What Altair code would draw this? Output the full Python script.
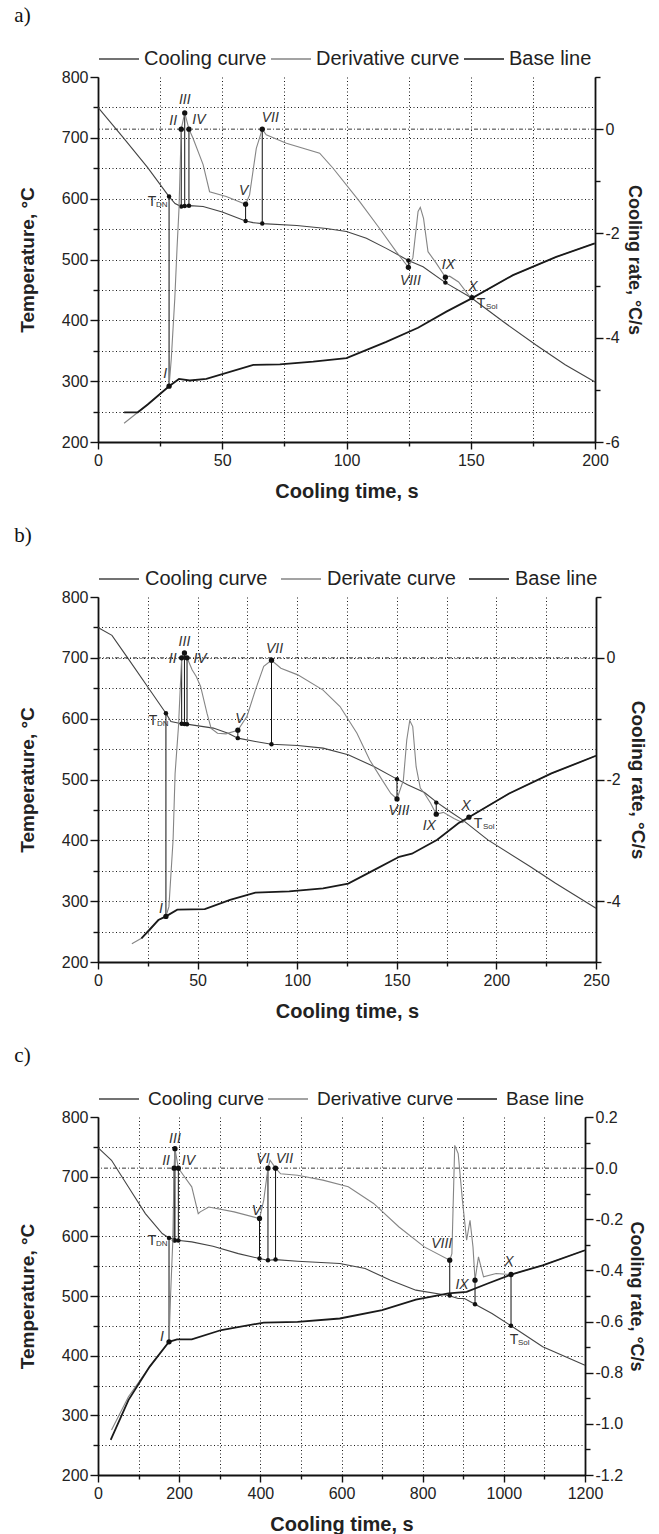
import altair as alt
import pandas as pd

FONT = "Liberation Sans"
SERIF = "Liberation Serif"
LINE_COLORS = ["#444444", "#858585", "#1a1a1a"]

# ---------------- Panel a ----------------
a_names = ["Cooling curve", "Derivative curve", "Base line"]
a_cool_t = [0, 10, 20, 28.6, 31, 33.5, 36.9, 42.3, 50, 59.4, 62.4, 66.1, 80, 91.9, 100, 108, 116,
            124.9, 130.8, 139.8, 150.2, 163, 176.4, 188, 200]
a_cool_T = [750, 701, 651, 603.5, 592, 587, 588.5, 587, 578, 563.3, 560.6, 559, 556, 551, 546, 535,
            518.3, 498.5, 488, 462, 437, 398, 359, 327, 298.6]
a_der_t = [10.5, 20, 28.6, 29.5, 30.9, 31.8, 32.6, 33.5, 34.9, 36.6, 38.2, 42.3, 44.9, 51.6, 59.4,
           61, 63.7, 66.1, 67.7, 75.8, 89.2, 94.6, 105.3, 113.4, 120, 124.9, 126.7, 128.8, 129.7,
           131, 132.8, 136.1, 139.8, 141.5, 145.1, 150.2, 167, 184.4, 199.9]
a_der_r = [-5.64, -5.28, -4.93, -4.40, -3.25, -2.29, -1.52, 0.0, 0.31, 0.0, -0.17, -0.68, -1.20,
           -1.29, -1.44, -1.26, -0.37, 0.0, -0.11, -0.27, -0.46, -0.75, -1.39, -1.91, -2.35, -2.65,
           -2.47, -1.58, -1.50, -1.71, -2.35, -2.57, -2.84, -2.82, -2.93, -3.25, -2.80, -2.45, -2.19]
a_base_t = [10.5, 16, 20, 28.6, 32.6, 36.9, 43.6, 62.5, 73.2, 86.6, 100, 116, 128.8, 140.2, 150.2,
            167, 184.4, 199.9]
a_base_r = [-5.43, -5.43, -5.28, -4.93, -4.79, -4.82, -4.79, -4.52, -4.51, -4.46, -4.39, -4.08,
            -3.81, -3.50, -3.25, -2.80, -2.45, -2.19]
a_pt_name = ["I", "II", "III", "IV", "V", "VII", "VIII", "IX", "X"]
a_pt_t = [28.6, 33.5, 34.9, 36.6, 59.4, 66.1, 124.9, 139.8, 150.5]
a_pt_rate = [-4.93, 0.0, 0.31, 0.0, -1.44, 0.0, -2.65, -2.84, -3.23]
a_pt_cool = [603.5, 587, 588, 588.5, 563.3, 559, 498.5, 462, None]
a_x_ticks = [0, 25, 50, 75, 100, 125, 150, 175, 200]
a_r_ticks = [-6, -5, -4, -3, -2, -1, 0, 1]

# ---------------- Panel b ----------------
b_names = ["Cooling curve", "Derivate curve", "Base line"]
b_cool_t = [0, 7, 15.5, 25, 34.1, 36.6, 42, 44.5, 57.9, 65.3, 70.2, 79, 87.1, 100.3, 113, 125.6,
            138.5, 150.1, 155.4, 163.9, 170.3, 176.7, 183, 195.7, 216.9, 229.7, 250]
b_cool_T = [750, 737, 697, 652, 609, 595.4, 591.6, 591, 584.5, 576, 568, 562.5, 558, 556, 551.6,
            540.6, 521.4, 500.6, 491.2, 478.6, 462, 447.4, 433.7, 400.7, 357, 329.5, 288.3]
b_der_t = [17, 21.8, 26, 30.3, 34.1, 35.6, 37.7, 38.7, 40.4, 42, 43.4, 44.7, 47.3, 49.4, 51.5, 54.7,
           56.8, 60, 64.2, 70.2, 74.8, 79, 83.2, 87.1, 91.8, 100.3, 113, 121.5, 130, 136.4, 142.7,
           147, 150.1, 153.3, 155, 156.5, 158, 159.7, 161.8, 163.9, 167, 169.8, 173.4, 178.7, 183,
           186.2, 206.4, 227.6, 250]
b_der_r = [-4.70, -4.61, -4.48, -4.31, -4.25, -4.09, -2.99, -1.90, -1.13, 0.0, 0.08, 0.0, -0.20,
           -0.31, -0.47, -0.91, -1.16, -1.24, -1.25, -1.19, -0.96, -0.53, -0.14, -0.04, -0.17,
           -0.28, -0.53, -0.80, -1.24, -1.68, -2.01, -2.23, -2.32, -2.01, -1.35, -1.03, -1.13,
           -1.79, -2.14, -2.23, -2.39, -2.57, -2.54, -2.64, -2.71, -2.62, -2.23, -1.90, -1.61]
b_base_t = [21.8, 30.3, 34.1, 39.8, 53.6, 66.3, 79, 96, 113, 125.6, 138.5, 151.2, 157.6, 170.3,
            180.9, 186.2, 206.4, 227.6, 250]
b_base_r = [-4.61, -4.31, -4.25, -4.14, -4.13, -3.98, -3.86, -3.84, -3.79, -3.71, -3.49, -3.27,
            -3.22, -2.99, -2.72, -2.62, -2.23, -1.90, -1.61]
b_pt_name = ["I", "II", "III", "IV", "V", "VII", "VIII", "IX", "X"]
b_pt_t = [34.1, 42, 43.4, 44.7, 70.2, 87.1, 150.1, 169.8, 186.2]
b_pt_rate = [-4.25, 0.0, 0.08, 0.0, -1.19, -0.04, -2.32, -2.57, -2.62]
b_pt_cool = [609, 591.6, 591.3, 591, 568, 558, 500.6, 462, None]
b_x_ticks = [0, 25, 50, 75, 100, 125, 150, 175, 200, 225, 250]
b_r_ticks = [-5, -4, -3, -2, -1, 0, 1]

# ---------------- Panel c ----------------
c_names = ["Cooling curve", "Derivative curve", "Base line"]
c_cool_t = [0, 33.3, 75, 116.7, 158.3, 175, 194.8, 231, 283.3, 345.8, 398, 418.8, 437.5, 491.7,
            595.8, 658.3, 720.8, 783.3, 863.5, 887.5, 903, 929, 970.8, 1017.7, 1095.8, 1200]
c_cool_T = [748.7, 727.4, 682.8, 638, 604.7, 597.4, 593.5, 590.7, 583.4, 571, 562.8, 560, 561,
            558.3, 554.4, 546, 526.5, 509.8, 500.8, 495.8, 495.8, 486.3, 470.7, 450, 414.9, 384]
c_der_t = [33.3, 75, 127, 175, 179, 184.4, 187.5, 189.6, 198, 210.4, 231, 247, 252, 272.9, 335.4,
           398, 408.3, 418.8, 424, 437.5, 450, 491.7, 554.2, 616.7, 679, 741.7, 804, 866.7, 872,
           879, 887.5, 898, 908.3, 916.7, 924, 929, 937.5, 950, 981, 1017.7, 1095.8, 1200]
c_der_r = [-1.024, -0.894, -0.777, -0.679, -0.491, -0.282, 0.0, 0.076, 0.0, -0.028, -0.073,
           -0.178, -0.171, -0.152, -0.171, -0.197, -0.126, 0.0, 0.031, 0.0, -0.022, -0.028,
           -0.047, -0.073, -0.138, -0.230, -0.308, -0.360, -0.334, 0.089, 0.057, -0.126, -0.282,
           -0.204, -0.308, -0.438, -0.347, -0.425, -0.412, -0.416, -0.380, -0.321]
c_base_t = [31.3, 75, 127, 175, 194.8, 231, 304, 408.3, 491.7, 595.8, 700, 783.3, 863.5, 908.3,
            960.4, 1017.7, 1095.8, 1200]
c_base_r = [-1.063, -0.907, -0.777, -0.679, -0.670, -0.670, -0.633, -0.604, -0.601, -0.588,
            -0.555, -0.514, -0.490, -0.484, -0.451, -0.416, -0.380, -0.321]
c_pt_name = ["I", "II", "III", "IV", "V", "VI", "VII", "VIII", "IX", "X"]
c_pt_t = [175, 187.5, 189.6, 198, 398, 418.8, 437.5, 866.7, 929, 1017.7]
c_pt_rate = [-0.679, 0.0, 0.076, 0.0, -0.197, 0.0, 0.0, -0.360, -0.438, -0.416]
c_pt_cool = [597.4, 593.5, 593, 593, 562.8, 560, 561, 500.8, 486.3, 450]
c_x_ticks = [0, 100, 200, 300, 400, 500, 600, 700, 800, 900, 1000, 1100, 1200]
c_r_ticks = [-1.2, -1.1, -1.0, -0.9, -0.8, -0.7, -0.6, -0.5, -0.4, -0.3, -0.2, -0.1, 0.0, 0.1, 0.2]

temp_ticks = [200, 250, 300, 350, 400, 450, 500, 550, 600, 650, 700, 750, 800]
zero_line = [0.0]

MINUS = "\u2212"


def build(tag, names, xdom, xticks, xmajor, rdom, rticks, rmajor_test, rfmt, width, height,
          cool_t, cool_T, der_t, der_r, base_t, base_r, pt_name, pt_t, pt_rate, pt_cool,
          labels, rtitle_size, rtitle_pad, leg_size, leg_offset, leg_colpad):
    cool_df = pd.DataFrame({"t": cool_t, "v": cool_T, "series": names[0]})
    der_df = pd.DataFrame({"t": der_t, "v": der_r, "series": names[1]})
    base_df = pd.DataFrame({"t": base_t, "v": base_r, "series": names[2]})
    pts = pd.DataFrame({"name": pt_name, "t": pt_t, "rate": pt_rate, "cool": pt_cool})

    X = alt.X("t:Q", scale=alt.Scale(domain=xdom, nice=False, zero=False),
              axis=alt.Axis(values=xticks, title="Cooling time, s", grid=True, format="d",
                            labelExpr=f"datum.value % {xmajor} == 0 ? datum.label : ''",
                            tickSize={"condition": {"test": f"datum.value % {xmajor} == 0", "value": 7}, "value": 4},
                            labelFlush=False, labelOverlap=False, titlePadding=13, labelPadding=3))

    def YL(field):
        return alt.Y(f"{field}:Q", scale=alt.Scale(domain=[200, 800], nice=False, zero=False),
                     axis=alt.Axis(orient="left", values=temp_ticks, title="Temperature, °C", grid=True,
                                   labelExpr="datum.value % 100 == 0 ? datum.label : ''",
                                   tickSize={"condition": {"test": "datum.value % 100 == 0", "value": 8}, "value": 5},
                                   gridOpacity={"condition": {"test": "datum.value >= 800", "value": 0}, "value": 1},
                                   labelOverlap=False, titlePadding=24, labelPadding=2))

    def YR(field):
        return alt.Y(f"{field}:Q", scale=alt.Scale(domain=rdom, nice=False, zero=False),
                     axis=alt.Axis(orient="right", values=rticks, title="Cooling rate, °C/s", grid=False,
                                   format=rfmt,
                                   labelExpr=f"({rmajor_test}) && datum.value <= 0.25 ? replace(datum.label, '{MINUS}', '-') : ''",
                                   tickSize={"condition": {"test": rmajor_test, "value": 8}, "value": 5},
                                   labelOverlap=False, titlePadding=rtitle_pad, labelPadding=2,
                                   titleFontSize=rtitle_size))

    color = alt.Color("series:N", scale=alt.Scale(domain=names, range=LINE_COLORS),
                      legend=alt.Legend(orient="top", direction="horizontal", title=None,
                                        symbolType="stroke", symbolSize=1600, symbolStrokeWidth=1.3,
                                        labelFontSize=leg_size, labelFont=FONT, labelColor="#222",
                                        labelOffset=leg_offset, columnPadding=leg_colpad, offset=8,
                                        padding=0))

    k = 600.0 / (rdom[1] - rdom[0])

    def lab(text, field, name, dx, dy, size=14, italic=True, align="center"):
        Y = YR(field) if field == "rate" else YL(field)
        return alt.Chart(pts).transform_filter(f"datum.name == '{name}'").mark_text(
            text=text, dx=dx, dy=dy, fontSize=size, fontStyle="italic" if italic else "normal",
            font=FONT, color="#333", align=align, baseline="middle").encode(x=X, y=Y)

    left_layers = [
        alt.Chart(cool_df).mark_line(strokeWidth=1.1).encode(x=X, y=YL("v"), color=color),
        alt.Chart(pts).transform_filter("isValid(datum.cool)").transform_calculate(
            teq=f"200 + (datum.rate - ({rdom[0]})) * {k}").mark_rule(color="#111", strokeWidth=1).encode(
            x=X, y=YL("cool"), y2=alt.Y2("teq:Q")),
        alt.Chart(pts).transform_filter("isValid(datum.cool)").mark_circle(
            size=20, color="#111", opacity=1).encode(x=X, y=YL("cool")),
    ]
    right_layers = [
        alt.Chart(pd.DataFrame({"v": zero_line})).mark_rule(
            color="#222", strokeWidth=0.9, strokeDash=[4, 2, 1, 2]).encode(y=YR("v")),
        alt.Chart(der_df).mark_line(strokeWidth=1.1).encode(x=X, y=YR("v"), color=color),
        alt.Chart(base_df).mark_line(strokeWidth=1.8).encode(x=X, y=YR("v"), color=color),
        alt.Chart(pts).mark_circle(size=28, color="#111", opacity=1).encode(x=X, y=YR("rate")),
    ]
    for (text, field, name, dx, dy, size, italic, align) in labels:
        layer = lab(text, field, name, dx, dy, size, italic, align)
        if field == "rate":
            right_layers.append(layer)
        else:
            left_layers.append(layer)

    return alt.layer(alt.layer(*left_layers), alt.layer(*right_layers)).resolve_scale(
        y="independent").properties(
        width=width, height=height,
        title=alt.TitleParams(tag, anchor="start", font=SERIF, fontSize=21, fontWeight="normal",
                              color="#111", offset=12, dx=-4))


def roman(spec):
    return [(n, "rate", n, dx, dy, 14, True, "center") for (n, dx, dy) in spec]


a_labels = roman([("I", -4, -12), ("II", -8, -8), ("III", 0, -13), ("IV", 10, -9), ("V", -2, -13),
                  ("VII", 8, -11), ("VIII", 2, 14), ("IX", 3, -12), ("X", 1, -11)]) + [
    ("T", "cool", "I", -17, 5, 14, False, "center"), ("DN", "cool", "I", -13, 8, 8, False, "left"),
    ("T", "rate", "X", 9, 6, 14, False, "center"), ("Sol", "rate", "X", 14, 9, 8, False, "left")]
b_labels = roman([("I", -5, -7), ("II", -9, 1), ("III", 0, -11), ("IV", 13, 1), ("V", 2, -11),
                  ("VII", 3, -11), ("VIII", 2, 12), ("IX", -7, 12), ("X", -3, -11)]) + [
    ("T", "cool", "I", -13, 8, 14, False, "center"), ("DN", "cool", "I", -9, 11, 8, False, "left"),
    ("T", "rate", "X", 9, 7, 14, False, "center"), ("Sol", "rate", "X", 14, 10, 8, False, "left")]
c_labels = roman([("I", -7, -5), ("II", -8, -7), ("III", 0, -10), ("IV", 10, -7), ("V", -3, -8),
                  ("VI", -5, -9), ("VII", 9, -9), ("VIII", -8, -16), ("IX", -13, 5), ("X", -2, -13)]) + [
    ("T", "cool", "I", -17, 3, 14, False, "center"), ("DN", "cool", "I", -13, 6, 8, False, "left"),
    ("T", "cool", "X", 3, 14, 14, False, "center"), ("Sol", "cool", "X", 7, 17, 8, False, "left")]

pa = build("a)", a_names, [0, 200], a_x_ticks, 50, [-6, 1], a_r_ticks, "datum.value % 2 == 0", "d",
           497, 365, a_cool_t, a_cool_T, a_der_t, a_der_r, a_base_t, a_base_r,
           a_pt_name, a_pt_t, a_pt_rate, a_pt_cool, a_labels, 18, 5, 20, 4, 1)
pb = build("b)", b_names, [0, 250], b_x_ticks, 50, [-5, 1], b_r_ticks, "datum.value % 2 == 0", "d",
           498, 365, b_cool_t, b_cool_T, b_der_t, b_der_r, b_base_t, b_base_r,
           b_pt_name, b_pt_t, b_pt_rate, b_pt_cool, b_labels, 19, 7, 20, 5, 10)
pc = build("c)", c_names, [0, 1200], c_x_ticks, 200, [-1.2, 0.2], c_r_ticks,
           "abs(round(datum.value * 10)) % 2 == 0", ".1f",
           487, 358, c_cool_t, c_cool_T, c_der_t, c_der_r, c_base_t, c_base_r,
           c_pt_name, c_pt_t, c_pt_rate, c_pt_cool, c_labels, 18, 4, 19, 8, 0)

chart = alt.vconcat(pa, pb, pc, spacing=24).resolve_scale(color="independent").resolve_legend(
    color="independent").properties(
    padding={"left": 14, "top": 5, "right": 6, "bottom": 0}
).configure_view(stroke=None).configure_axis(
    labelFont=FONT, labelFontSize=16, labelColor="#222",
    titleFont=FONT, titleFontSize=19, titleFontWeight="bold", titleColor="#222",
    domainColor="#111", domainWidth=1.8, tickColor="#111", tickWidth=1.4,
    gridColor="#000", gridDash=[1, 2.5], gridWidth=0.9
).configure_axisX(titleFontSize=20)

chart.save("out.html", embed_options={"renderer": "svg", "actions": False})
